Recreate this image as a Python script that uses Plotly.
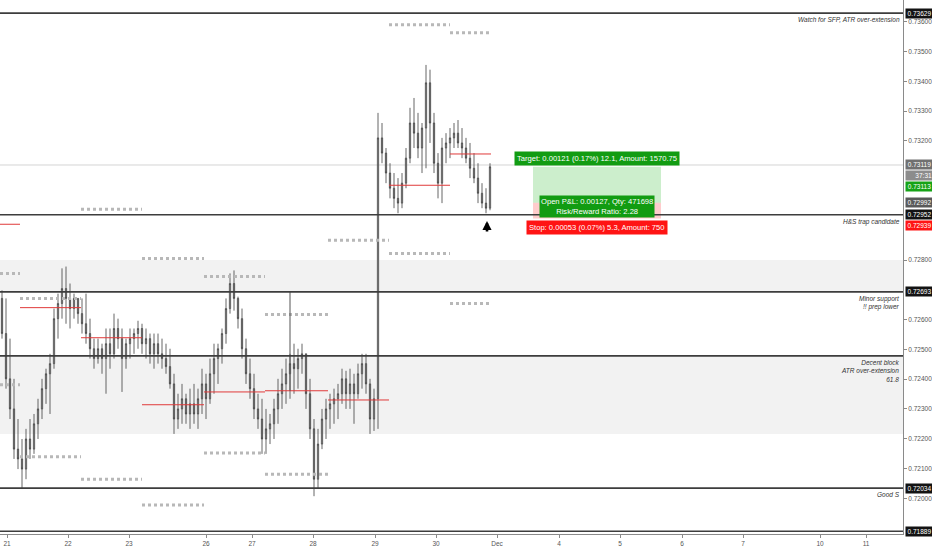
import plotly.graph_objects as go

# ---------------- data ----------------
opens = [0.72671, 0.72553, 0.72401, 0.72300, 0.72165, 0.72132, 0.72098, 0.72199, 0.72165, 0.72250,
         0.72300, 0.72368, 0.72418, 0.72452, 0.72603, 0.72654, 0.72704, 0.72671, 0.72637, 0.72671,
         0.72620, 0.72586, 0.72553, 0.72502, 0.72469, 0.72502, 0.72469, 0.72519, 0.72485, 0.72570,
         0.72536, 0.72469, 0.72519, 0.72536, 0.72553, 0.72570, 0.72519, 0.72536, 0.72485, 0.72519,
         0.72485, 0.72469, 0.72442, 0.72384, 0.72266, 0.72300, 0.72334, 0.72283, 0.72317, 0.72283,
         0.72334, 0.72384, 0.72334, 0.72418, 0.72469, 0.72502, 0.72553, 0.72637, 0.72721, 0.72671,
         0.72603, 0.72502, 0.72418, 0.72368, 0.72300, 0.72266, 0.72199, 0.72233, 0.72250, 0.72300,
         0.72351, 0.72384, 0.72418, 0.72452, 0.72435, 0.72469, 0.72485, 0.72351, 0.72233, 0.72064,
         0.72182, 0.72266, 0.72300, 0.72317, 0.72334, 0.72351, 0.72401, 0.72351, 0.72384, 0.72351,
         0.72418, 0.72452, 0.72384, 0.72266, 0.72334, 0.73210, 0.73159, 0.73092, 0.73041, 0.73007,
         0.72991, 0.73058, 0.73142, 0.73260, 0.73226, 0.73176, 0.73243, 0.73395, 0.73260, 0.73125,
         0.73058, 0.73176, 0.73193, 0.73210, 0.73226, 0.73193, 0.73176, 0.73142, 0.73108, 0.73075,
         0.73024, 0.72991, 0.72974]
highs = [0.72698, 0.72671, 0.72536, 0.72401, 0.72266, 0.72199, 0.72233, 0.72266, 0.72283, 0.72334,
         0.72401, 0.72435, 0.72485, 0.72637, 0.72687, 0.72772, 0.72778, 0.72721, 0.72687, 0.72671,
         0.72671, 0.72687, 0.72603, 0.72536, 0.72536, 0.72519, 0.72570, 0.72570, 0.72620, 0.72603,
         0.72570, 0.72536, 0.72570, 0.72570, 0.72596, 0.72586, 0.72570, 0.72553, 0.72553, 0.72553,
         0.72536, 0.72519, 0.72502, 0.72418, 0.72351, 0.72384, 0.72351, 0.72368, 0.72384, 0.72368,
         0.72435, 0.72418, 0.72469, 0.72519, 0.72519, 0.72570, 0.72671, 0.72755, 0.72765, 0.72677,
         0.72637, 0.72536, 0.72469, 0.72418, 0.72351, 0.72334, 0.72300, 0.72283, 0.72334, 0.72401,
         0.72435, 0.72469, 0.72485, 0.72519, 0.72502, 0.72519, 0.72485, 0.72401, 0.72266, 0.72233,
         0.72300, 0.72334, 0.72351, 0.72368, 0.72384, 0.72435, 0.72428, 0.72435, 0.72418, 0.72452,
         0.72485, 0.72485, 0.72401, 0.72368, 0.73294, 0.73260, 0.73176, 0.73125, 0.73092, 0.73075,
         0.73092, 0.73176, 0.73311, 0.73344, 0.73294, 0.73260, 0.73455, 0.73439, 0.73294, 0.73159,
         0.73210, 0.73226, 0.73243, 0.73260, 0.73270, 0.73243, 0.73210, 0.73193, 0.73159, 0.73125,
         0.73058, 0.73041, 0.73125]
lows = [0.72536, 0.72368, 0.72266, 0.72132, 0.72098, 0.72031, 0.72064, 0.72132, 0.72149, 0.72199,
        0.72266, 0.72317, 0.72283, 0.72435, 0.72536, 0.72603, 0.72586, 0.72570, 0.72603, 0.72586,
        0.72553, 0.72519, 0.72469, 0.72435, 0.72452, 0.72418, 0.72351, 0.72435, 0.72469, 0.72502,
        0.72357, 0.72435, 0.72469, 0.72485, 0.72502, 0.72485, 0.72469, 0.72452, 0.72435, 0.72452,
        0.72435, 0.72418, 0.72368, 0.72216, 0.72233, 0.72250, 0.72250, 0.72233, 0.72250, 0.72233,
        0.72283, 0.72266, 0.72317, 0.72351, 0.72384, 0.72452, 0.72519, 0.72620, 0.72630, 0.72570,
        0.72469, 0.72384, 0.72334, 0.72266, 0.72233, 0.72149, 0.72149, 0.72182, 0.72199, 0.72250,
        0.72300, 0.72317, 0.72334, 0.72351, 0.72368, 0.72418, 0.72300, 0.72199, 0.72007, 0.72031,
        0.72165, 0.72199, 0.72233, 0.72250, 0.72266, 0.72317, 0.72300, 0.72300, 0.72250, 0.72334,
        0.72368, 0.72351, 0.72216, 0.72226, 0.72233, 0.73125, 0.73058, 0.73007, 0.72974, 0.72957,
        0.72974, 0.73041, 0.73125, 0.73176, 0.73142, 0.73092, 0.73108, 0.73193, 0.73092, 0.73007,
        0.72991, 0.73125, 0.73142, 0.73176, 0.73176, 0.73142, 0.73125, 0.73075, 0.73058, 0.72991,
        0.72974, 0.72957, 0.72967]
closes = [0.72553, 0.72401, 0.72300, 0.72165, 0.72132, 0.72098, 0.72199, 0.72165, 0.72250, 0.72300,
          0.72368, 0.72418, 0.72452, 0.72603, 0.72654, 0.72704, 0.72671, 0.72637, 0.72671, 0.72620,
          0.72586, 0.72553, 0.72502, 0.72469, 0.72502, 0.72469, 0.72519, 0.72485, 0.72570, 0.72536,
          0.72469, 0.72519, 0.72536, 0.72553, 0.72570, 0.72519, 0.72536, 0.72485, 0.72519, 0.72485,
          0.72469, 0.72442, 0.72384, 0.72266, 0.72300, 0.72334, 0.72283, 0.72317, 0.72283, 0.72334,
          0.72384, 0.72334, 0.72418, 0.72469, 0.72502, 0.72553, 0.72637, 0.72721, 0.72671, 0.72603,
          0.72502, 0.72418, 0.72368, 0.72300, 0.72266, 0.72199, 0.72233, 0.72250, 0.72300, 0.72351,
          0.72384, 0.72418, 0.72452, 0.72435, 0.72469, 0.72485, 0.72351, 0.72233, 0.72064, 0.72182,
          0.72266, 0.72300, 0.72317, 0.72334, 0.72351, 0.72401, 0.72351, 0.72384, 0.72351, 0.72418,
          0.72452, 0.72384, 0.72266, 0.72334, 0.73210, 0.73159, 0.73092, 0.73041, 0.73007, 0.72991,
          0.73058, 0.73142, 0.73260, 0.73226, 0.73176, 0.73243, 0.73395, 0.73260, 0.73125, 0.73058,
          0.73176, 0.73193, 0.73210, 0.73226, 0.73193, 0.73176, 0.73142, 0.73108, 0.73075, 0.73024,
          0.72991, 0.72974, 0.73113]
bar_index = list(range(len(opens)))

day_ticks = [1.25, 16.5, 31.75, 51, 62.5, 77.75, 93.25, 108.5, 123.75, 139.25, 154.5, 170, 185.25, 204.5, 216]
day_labels = ["21", "22", "23", "26", "27", "28", "29", "30", "Dec", "4", "5", "6", "7", "10", "11"]
# price ticks left visible (the others sit under the price labels)
price_ticks = [0.720, 0.721, 0.722, 0.723, 0.724, 0.725, 0.726, 0.728,
               0.732, 0.733, 0.734, 0.735, 0.736]

# daily sessions (bar-index edges) and their levels
session_edges = [-0.5, 4.5, 19.75, 35, 50.5, 65.75, 81.5, 96.75, 112, 122.25]
level_upper = [0.72755, 0.72671, 0.72970, 0.72805, 0.72745, 0.72617, 0.72866, 0.73590, 0.73563]
level_lower = [0.72381, 0.72139, 0.72064, 0.71977, 0.72152, 0.72081, None, 0.72822, 0.72654]
level_mid = [0.72920, 0.72640, 0.72539, 0.72314, 0.72357, 0.72361, 0.72330, 0.73051, 0.73156]

# horizontal key levels and notes
key_levels = [0.73629, 0.72952, 0.72693, 0.72478, 0.72034, 0.71889]
key_notes = ["Watch for SFP, ATR over-extension", "H&S trap candidate",
             "Minor support<br>!! prep lower", "Decent block<br>ATR over-extension<br>61.8",
             "Good S", ""]
zones = [(0.72693, 0.72800), (0.72216, 0.72478)]
grey_level = 0.73119

# position tool
entry_price = 0.72992
target_price = 0.73113
stop_price = 0.72939
pos_start, pos_end = 132.75, 164.75
vline_x, vline_top, vline_bottom = 72, 0.72693, 0.72361
arrow_x, arrow_price = 121.25, 0.72931

# ---------------- figure ----------------
fig = go.Figure()

shapes = []
for lo, hi in zones:
    shapes.append(dict(type="rect", xref="paper", x0=0, x1=1, yref="y", y0=lo, y1=hi,
                       fillcolor="#f2f2f2", line=dict(width=0), layer="below"))
shapes.append(dict(type="line", xref="paper", x0=0, x1=1, yref="y", y0=grey_level, y1=grey_level,
                   line=dict(color="#d4d4d4", width=1), layer="below"))
# position box
shapes.append(dict(type="rect", x0=pos_start, x1=pos_end, y0=entry_price, y1=target_price,
                   fillcolor="rgba(0,170,0,0.2)", line=dict(width=0), layer="below"))
shapes.append(dict(type="rect", x0=pos_start, x1=pos_end, y0=stop_price, y1=entry_price,
                   fillcolor="rgba(255,0,0,0.2)", line=dict(width=0), layer="below"))

for i in range(len(session_edges) - 1):
    x0, x1 = session_edges[i], session_edges[i + 1]
    for v in (level_upper[i], level_lower[i]):
        if v is not None:
            shapes.append(dict(type="line", x0=x0, x1=x1, y0=v, y1=v,
                               line=dict(color="#b8b8b8", width=3, dash="dot")))
    shapes.append(dict(type="line", x0=x0, x1=x1, y0=level_mid[i], y1=level_mid[i],
                       line=dict(color="#e03a3a", width=1)))

shapes.append(dict(type="line", x0=vline_x, x1=vline_x, y0=vline_top, y1=vline_bottom,
                   line=dict(color="#555555", width=1)))

for lv in key_levels:
    shapes.append(dict(type="line", xref="paper", x0=0, x1=1, yref="y", y0=lv, y1=lv,
                       line=dict(color="#3d3d3d", width=1.6)))

fig.add_trace(go.Candlestick(
    x=bar_index, open=opens, high=highs, low=lows, close=closes,
    increasing=dict(line=dict(color="#404040", width=0.8), fillcolor="#b8b8b8"),
    decreasing=dict(line=dict(color="#404040", width=0.8), fillcolor="#8a8a8a"),
    whiskerwidth=0, hoverinfo="skip", showlegend=False))

annotations = []
note_font = dict(family="Liberation Sans", size=6.5, color="#333333")
for lv, note in zip(key_levels, key_notes):
    if note:
        annotations.append(dict(xref="paper", x=1, xanchor="right", xshift=-1,
                                yref="y", y=lv, yanchor="top", yshift=-1,
                                text="<i>" + note + "</i>", showarrow=False, align="right",
                                font=note_font))

# right price labels
label_font = dict(family="Liberation Sans", size=6.5, color="white")
right_labels = [
    (0.73629, "#131313", 0), (grey_level, "#707070", 0), (target_price, "#17a317", -20),
    (entry_price, "#5a5a5a", 0), (0.72952, "#131313", 0), (stop_price, "#ff1414", -7),
    (0.72693, "#131313", 0), (0.72034, "#131313", 0), (0.71889, "#131313", 0),
]
for v, col, sh in right_labels:
    annotations.append(dict(xref="paper", x=1, xanchor="left", xshift=2, yref="y", y=v,
                            yanchor="middle", yshift=sh, text=f"{v:.5f}", showarrow=False,
                            bgcolor=col, borderpad=1, width=25, font=label_font))
annotations.append(dict(xref="paper", x=1, xanchor="left", xshift=2, yref="y", y=grey_level,
                        yanchor="middle", yshift=-11, text="37:31", showarrow=False,
                        bgcolor="#8c8c8c", borderpad=1, width=25, align="right", font=label_font))

pos_mid = (pos_start + pos_end) / 2
box_font = dict(family="Liberation Sans", size=7.6, color="white")
annotations.append(dict(x=pos_mid, y=target_price, yanchor="bottom", yshift=1,
                        text="Target: 0.00121 (0.17%) 12.1, Amount: 1570.75",
                        showarrow=False, bgcolor="#129c12", borderpad=2, font=box_font))
annotations.append(dict(x=pos_mid, y=entry_price, yanchor="middle", yshift=-4,
                        text="Open P&L: 0.00127, Qty: 471698<br>Risk/Reward Ratio: 2.28",
                        showarrow=False, bgcolor="#129c12", borderpad=1, font=box_font))
annotations.append(dict(x=pos_mid, y=stop_price, yanchor="top", yshift=-1,
                        text="Stop: 0.00053 (0.07%) 5.3, Amount: 750",
                        showarrow=False, bgcolor="#ff1414", borderpad=2, font=box_font))
annotations.append(dict(x=arrow_x, y=arrow_price, ax=0, ay=12, text="", showarrow=True,
                        arrowhead=2, arrowsize=0.7, arrowwidth=2.6, arrowcolor="#000000"))

fig.update_layout(
    width=932, height=550,
    margin=dict(l=0, r=29, t=0, b=16),
    paper_bgcolor="white", plot_bgcolor="white",
    shapes=shapes, annotations=annotations, showlegend=False,
    boxgap=0.55,
    xaxis=dict(range=[-0.5, 225.25], tickvals=day_ticks, ticktext=day_labels,
               showgrid=False, zeroline=False, showline=True, linecolor="#8a8a8a",
               ticks="outside", ticklen=3, tickcolor="#8a8a8a",
               tickfont=dict(family="Liberation Sans", size=6.5, color="#555555"),
               rangeslider=dict(visible=False), fixedrange=True),
    yaxis=dict(range=[0.71880, 0.73673], side="right", tickvals=price_ticks, tickformat=".5f",
               showgrid=False, zeroline=False, showline=True, linecolor="#8a8a8a",
               ticks="outside", ticklen=3, tickcolor="#8a8a8a",
               tickfont=dict(family="Liberation Sans", size=6.5, color="#555555")),
)

fig.write_html("out.html", config={"displayModeBar": False},
               post_script="document.body.style.margin='0';")
